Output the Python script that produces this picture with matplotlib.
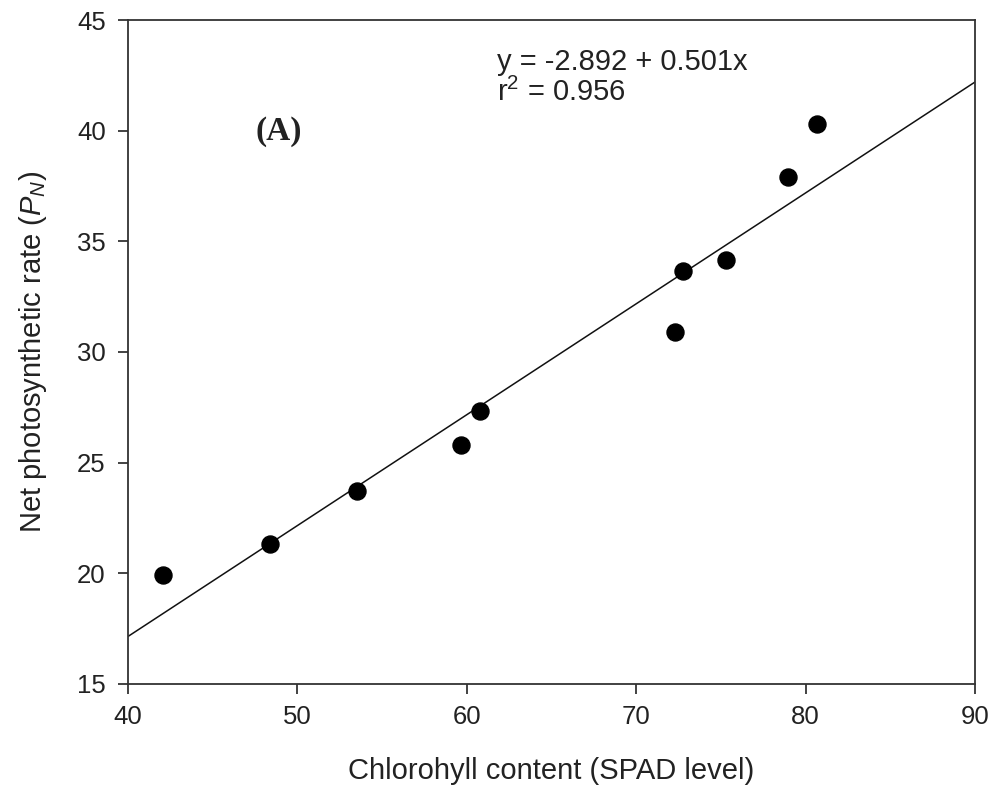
import matplotlib
matplotlib.use("Agg")
import matplotlib.pyplot as plt
import numpy as np

# Data
spad = [42.07, 48.38, 53.52, 59.66, 60.78, 72.29, 72.76, 75.30, 78.96, 80.67]
pn   = [19.93, 21.33, 23.72, 25.80, 27.34, 30.91, 33.66, 34.16, 37.91, 40.30]

INTERCEPT, SLOPE, R2 = -2.892, 0.501, 0.956
X_TICKS = [40, 50, 60, 70, 80, 90]
Y_TICKS = [15, 20, 25, 30, 35, 40, 45]

plt.rcParams.update({
    "font.family": ["Liberation Sans", "DejaVu Sans"],
    "font.size": 18,
    "mathtext.fontset": "custom",
    "mathtext.it": "Liberation Sans:italic",
    "mathtext.rm": "Liberation Sans",
})

fig = plt.figure(figsize=(9.94, 7.97), dpi=100)
ax = fig.add_axes([0.1288, 0.1418, 0.8521, 0.8331])

xl = np.array([40, 90])
ax.plot(xl, INTERCEPT + SLOPE * xl, color="#111111", lw=1.1)
ax.scatter(spad, pn, s=150, color="black", zorder=5)

ax.set_xlim(40, 90)
ax.set_ylim(15, 45)
ax.set_xticks(X_TICKS)
ax.set_yticks(Y_TICKS)
ax.tick_params(direction="out", length=7, width=1.2, labelsize=18.5, colors="#222222")
ax.tick_params(axis="x", pad=8)
ax.tick_params(axis="y", pad=9)
for s in ax.spines.values():
    s.set_linewidth(1.3)
    s.set_color("#333333")

ax.set_xlabel("Chlorohyll content (SPAD level)", fontsize=21, color="#222222", labelpad=20)
ax.set_ylabel(r"Net photosynthetic rate ($P_N$)", fontsize=21, color="#222222", labelpad=20)

ax.text(61.8, 43.75, f"y = {INTERCEPT} + {SLOPE}x\nr$^2$ = {R2}",
        fontsize=21, va="top", ha="left", color="#222222", linespacing=1.1)
ax.text(48.9, 39.94, "(A)", fontsize=24, fontweight="bold",
        family="Liberation Serif", ha="center", va="center", color="#222222")

fig.savefig("out.png", dpi=100)
